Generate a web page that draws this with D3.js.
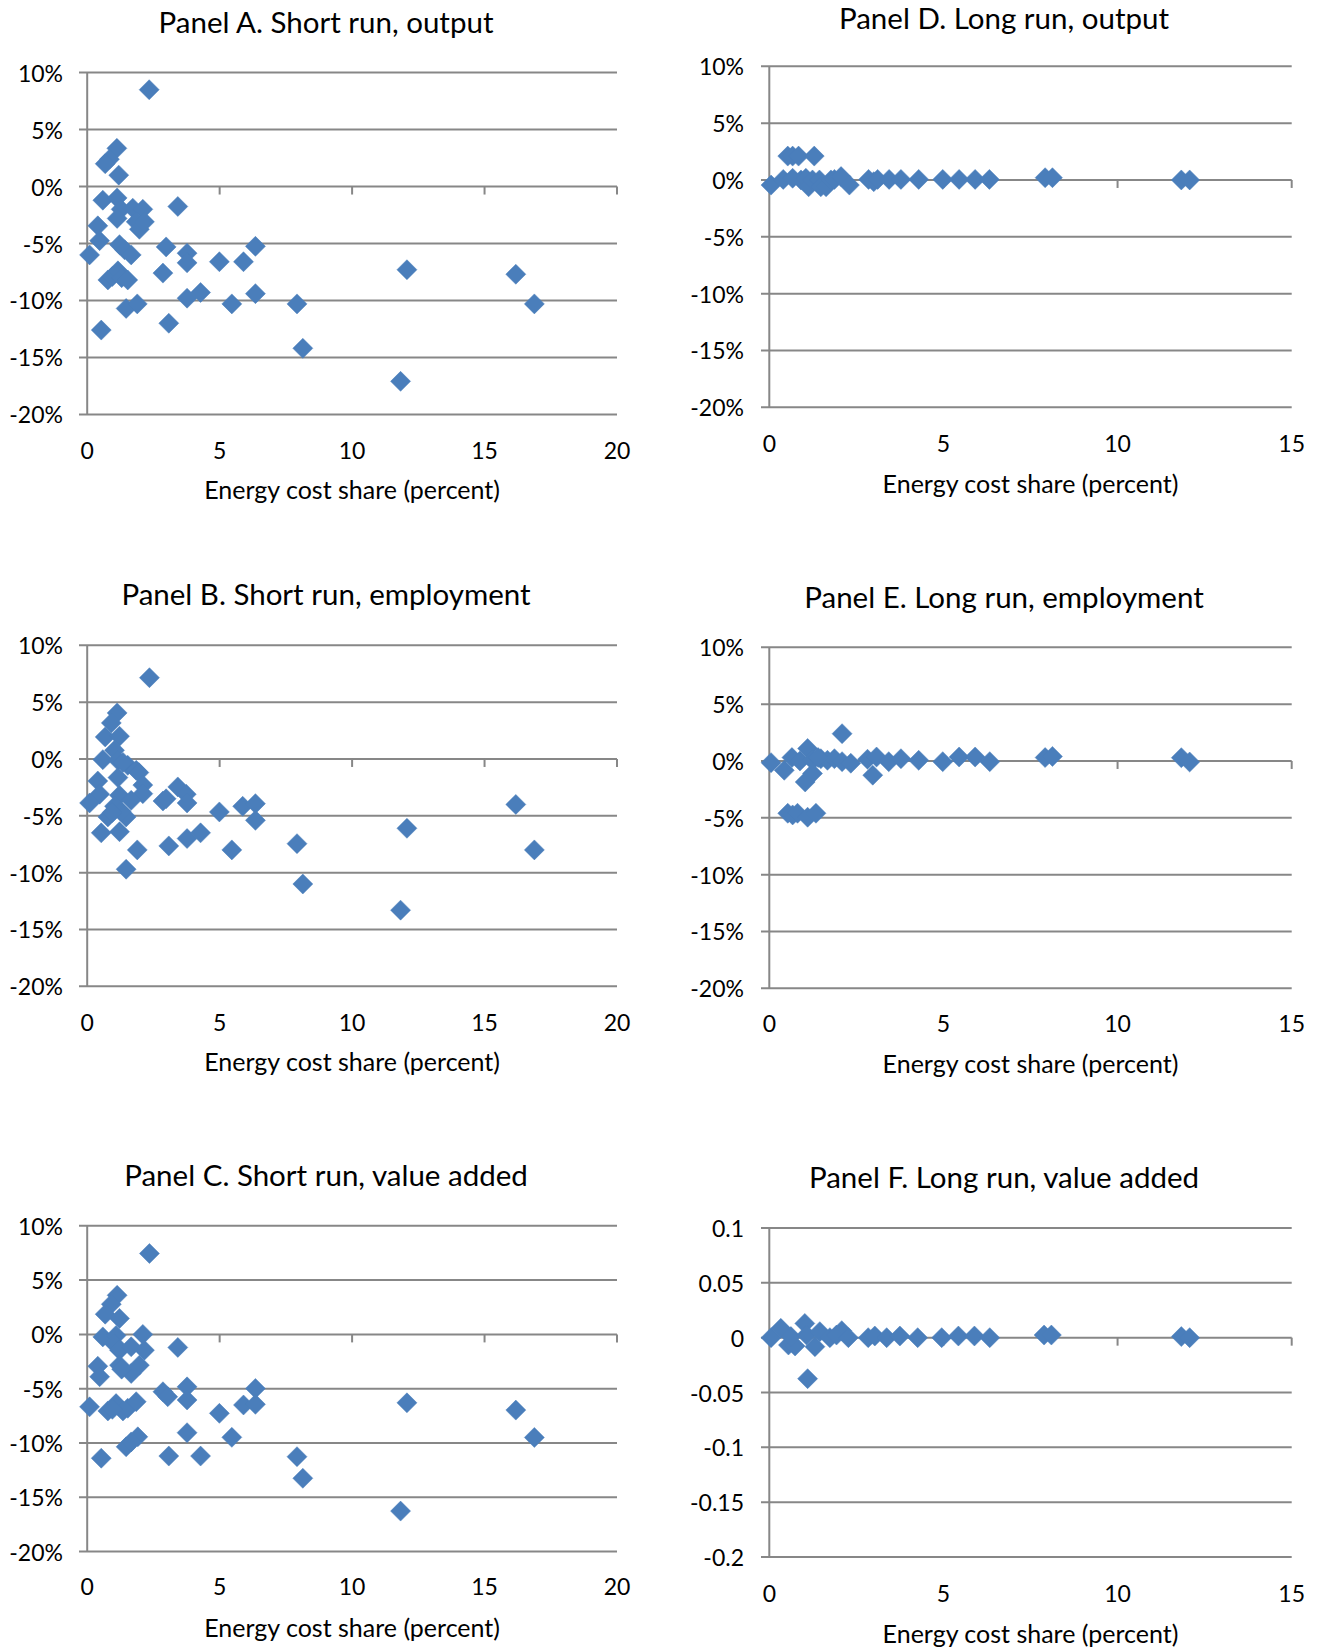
<!DOCTYPE html>
<html>
<head>
<meta charset="utf-8">
<script src="https://cdn.jsdelivr.net/npm/d3@7"></script>
<style>
  html, body { margin: 0; padding: 0; background: #fff; }
  svg text { font-family: Lato, "Noto Sans", sans-serif; fill: #000; }
</style>
</head>
<body>
<svg id="chart" width="1318" height="1648"></svg>
<script>
// ---------- DATA ----------
const panelTitles = [
  "Panel A. Short run, output",
  "Panel B. Short run, employment",
  "Panel C. Short run, value added",
  "Panel D. Long run, output",
  "Panel E. Long run, employment",
  "Panel F. Long run, value added"
];
const xAxisTitle = "Energy cost share (percent)";
const shortRunXTicks = [0, 5, 10, 15, 20];
const longRunXTicks = [0, 5, 10, 15];
const pctYTicks = [-20, -15, -10, -5, 0, 5, 10];
const fracYTicks = [-0.2, -0.15, -0.1, -0.05, 0, 0.05, 0.1];

// Panel A: short run, output (percent)
const shareA = [2.34,1.12,0.84,0.68,1.19,0.59,1.13,1.28,1.13,1.72,2.10,1.85,1.97,2.16,3.42,0.40,0.47,0.09,1.22,1.41,1.66,2.98,3.77,3.77,4.99,5.90,6.35,0.78,0.95,1.16,1.30,1.53,2.86,1.47,1.89,3.77,4.28,5.46,6.35,7.92,3.08,0.53,8.14,12.07,11.83,16.18,16.88];
const outA   = [8.5,3.35,2.4,2.0,1.0,-1.2,-1.0,-2.0,-2.8,-1.9,-2.0,-3.1,-3.75,-3.1,-1.75,-3.45,-4.75,-6.0,-5.1,-5.55,-6.0,-5.3,-5.85,-6.7,-6.6,-6.6,-5.25,-8.2,-7.9,-7.4,-8.0,-8.2,-7.6,-10.7,-10.3,-9.8,-9.3,-10.3,-9.4,-10.3,-12.0,-12.6,-14.2,-7.3,-17.1,-7.7,-10.3];

// Panel B: short run, employment (percent)
const shareB = [2.35,1.13,0.91,0.68,1.22,1.03,0.59,1.16,1.53,1.85,1.95,1.16,2.10,2.10,0.40,0.47,0.09,1.22,1.66,1.03,0.78,1.47,1.22,0.53,1.47,1.89,2.86,2.98,3.42,3.74,3.77,3.77,4.28,3.08,4.99,5.46,5.87,6.35,6.35,7.92,8.14,12.07,11.83,16.18,16.88,1.28,0.95,1.35];
const empB   = [7.15,4.05,3.17,1.94,2.0,0.76,-0.06,-0.12,-0.56,-1.0,-1.2,-1.64,-2.3,-3.05,-1.94,-3.1,-3.87,-3.2,-3.64,-4.16,-5.1,-5.1,-6.4,-6.5,-9.7,-8.0,-3.7,-3.5,-2.46,-3.1,-3.87,-7.0,-6.5,-7.65,-4.66,-8.0,-4.16,-3.93,-5.4,-7.45,-11.0,-6.1,-13.3,-4.0,-8.0,-4.6,-4.7,-0.3];

// Panel C: short run, value added (percent)
const shareC = [2.35,1.13,0.91,0.68,1.22,0.59,1.09,1.02,1.22,1.66,2.10,2.16,1.97,1.22,1.66,3.42,0.40,0.47,0.09,0.78,1.09,1.35,1.53,1.85,2.86,3.04,3.77,3.77,4.99,5.90,6.35,6.35,1.47,1.91,1.66,3.77,4.28,3.08,5.46,7.92,8.14,0.53,12.07,11.83,16.18,16.88,1.30,0.95];
const vaC    = [7.45,3.6,2.78,1.86,1.47,-0.23,-0.1,-0.85,-1.45,-1.14,0.0,-1.45,-2.83,-2.83,-3.6,-1.2,-2.93,-3.9,-6.67,-7.05,-6.37,-7.05,-6.8,-6.2,-5.28,-5.74,-4.83,-6.04,-7.27,-6.5,-4.98,-6.44,-10.35,-9.43,-9.9,-9.05,-11.2,-11.2,-9.48,-11.26,-13.25,-11.4,-6.3,-16.27,-6.97,-9.49,-3.2,-6.9];

// Panel D: long run, output (percent)
const shareD = [0.05,0.40,0.53,0.67,0.84,1.29,0.67,0.91,1.05,1.13,1.24,1.44,1.48,1.63,1.77,1.87,2.06,2.30,2.85,3.00,3.11,3.44,3.78,4.29,4.98,5.45,5.91,6.32,7.92,8.13,11.83,12.07];
const outD   = [-0.45,0.05,2.1,2.1,2.1,2.1,0.15,0.0,0.15,-0.6,0.0,0.0,-0.6,-0.6,0.0,0.05,0.3,-0.45,0.05,-0.15,0.05,0.05,0.05,0.05,0.05,0.05,0.05,0.05,0.2,0.2,0.0,0.0];

// Panel E: long run, employment (percent)
const shareE = [0.05,0.43,0.65,0.88,1.10,1.24,1.03,1.24,1.48,1.67,1.87,2.09,2.09,2.34,2.82,2.97,3.08,3.43,3.78,4.29,4.98,5.45,5.91,6.33,7.92,8.13,11.83,12.07,0.53,0.67,0.81,1.10,1.34,1.40];
const empE   = [-0.15,-0.82,0.3,0.0,1.1,0.06,-1.85,-1.1,0.2,0.06,0.2,2.4,-0.06,-0.2,0.15,-1.25,0.35,-0.06,0.2,0.06,-0.06,0.35,0.35,-0.06,0.3,0.4,0.29,-0.09,-4.6,-4.75,-4.6,-4.95,-4.6,0.3];

// Panel F: long run, value added (fraction)
const shareF = [0.05,0.33,0.55,0.74,0.62,1.02,1.10,1.31,1.07,1.45,1.74,1.93,2.08,2.27,2.84,3.03,3.37,3.75,4.26,4.95,5.43,5.89,6.33,7.89,8.10,11.83,12.07];
const vaF    = [0.0,0.0085,-0.0067,-0.0076,0.001,0.013,-0.0374,-0.0082,0.0024,0.0055,0.0,0.0024,0.0064,0.0,0.0,0.0015,0.0,0.0015,0.0,0.0,0.0015,0.0015,0.0,0.0024,0.0024,0.001,0.0];

// ---------- LAYOUT ----------
const pctFmt = d => d + "%";
const fracFmt = d => String(+d.toFixed(2));

const panels = [
  { title: panelTitles[0], xs: shareA, ys: outA, xMax: 20, xTicks: shortRunXTicks, yMin: -20, yMax: 10, yTicks: pctYTicks, fmt: pctFmt,
    left: 87.2, right: 617, top: 72.6, bottom: 414.4, titleX: 326, titleY: 21.7, tickY: 450, axisTitleY: 489, labelRight: 63, gridLeft: 79 },
  { title: panelTitles[1], xs: shareB, ys: empB, xMax: 20, xTicks: shortRunXTicks, yMin: -20, yMax: 10, yTicks: pctYTicks, fmt: pctFmt,
    left: 87.2, right: 617, top: 645.3, bottom: 986.3, titleX: 326, titleY: 593.3, tickY: 1021.7, axisTitleY: 1061, labelRight: 63, gridLeft: 79 },
  { title: panelTitles[2], xs: shareC, ys: vaC, xMax: 20, xTicks: shortRunXTicks, yMin: -20, yMax: 10, yTicks: pctYTicks, fmt: pctFmt,
    left: 87.2, right: 617, top: 1225.8, bottom: 1551.6, titleX: 326, titleY: 1174, tickY: 1586, axisTitleY: 1626.7, labelRight: 63, gridLeft: 79 },
  { title: panelTitles[3], xs: shareD, ys: outD, xMax: 15, xTicks: longRunXTicks, yMin: -20, yMax: 10, yTicks: pctYTicks, fmt: pctFmt,
    left: 769.3, right: 1291.7, top: 66.3, bottom: 407.3, titleX: 1004, titleY: 17, tickY: 442.7, axisTitleY: 482.7, labelRight: 744, gridLeft: 761 },
  { title: panelTitles[4], xs: shareE, ys: empE, xMax: 15, xTicks: longRunXTicks, yMin: -20, yMax: 10, yTicks: pctYTicks, fmt: pctFmt,
    left: 769.3, right: 1291.7, top: 647.3, bottom: 988.3, titleX: 1004, titleY: 596, tickY: 1023.3, axisTitleY: 1062.7, labelRight: 744, gridLeft: 761 },
  { title: panelTitles[5], xs: shareF, ys: vaF, xMax: 15, xTicks: longRunXTicks, yMin: -0.2, yMax: 0.1, yTicks: fracYTicks, fmt: fracFmt,
    left: 769.3, right: 1291.7, top: 1228, bottom: 1557, titleX: 1004, titleY: 1176.7, tickY: 1592.7, axisTitleY: 1632.7, labelRight: 744, gridLeft: 761 }
];

const gridColor = "#878787";
const markerColor = "#4a7ebb";
const diamond = r => `M0,${-r}L${r},0L0,${r}L${-r},0Z`;

const svg = d3.select("#chart");
svg.append("rect").attr("width", 1318).attr("height", 1648).attr("fill", "#fff");

panels.forEach(p => {
  const g = svg.append("g");
  const x = d3.scaleLinear().domain([0, p.xMax]).range([p.left, p.right]);
  const y = d3.scaleLinear().domain([p.yMin, p.yMax]).range([p.bottom, p.top]);

  // horizontal gridlines (with left tick marks)
  g.selectAll("line.grid").data(p.yTicks).join("line")
    .attr("x1", p.gridLeft).attr("x2", p.right)
    .attr("y1", d => y(d)).attr("y2", d => y(d))
    .attr("stroke", gridColor).attr("stroke-width", 2);

  // vertical axis line
  g.append("line")
    .attr("x1", x(0)).attr("x2", x(0))
    .attr("y1", y(p.yMax)).attr("y2", y(p.yMin))
    .attr("stroke", gridColor).attr("stroke-width", 2);

  // horizontal axis at zero with downward ticks
  g.selectAll("line.xtick").data(p.xTicks.filter(v => v > 0)).join("line")
    .attr("x1", d => x(d)).attr("x2", d => x(d))
    .attr("y1", y(0)).attr("y2", y(0) + 8)
    .attr("stroke", gridColor).attr("stroke-width", 2);

  // y tick labels
  g.selectAll("text.ylab").data(p.yTicks).join("text")
    .attr("x", p.labelRight).attr("y", d => y(d))
    .attr("text-anchor", "end").attr("dominant-baseline", "central")
    .style("font-size", "23px")
    .text(p.fmt);

  // x tick labels (at bottom)
  g.selectAll("text.xlab").data(p.xTicks).join("text")
    .attr("x", d => x(d)).attr("y", p.tickY)
    .attr("text-anchor", "middle").attr("dominant-baseline", "central")
    .style("font-size", "23px")
    .text(d => d);

  // x axis title
  g.append("text")
    .attr("x", (p.left + p.right) / 2).attr("y", p.axisTitleY)
    .attr("text-anchor", "middle").attr("dominant-baseline", "central")
    .style("font-size", "25px")
    .text(xAxisTitle);

  // panel title
  g.append("text")
    .attr("x", p.titleX).attr("y", p.titleY)
    .attr("text-anchor", "middle").attr("dominant-baseline", "central")
    .style("font-size", "29.5px")
    .text(p.title);

  // points
  const pts = p.xs.map((v, i) => ({ x: v, y: p.ys[i] })).filter(d => d.x <= p.xMax);
  g.selectAll("path.pt").data(pts).join("path")
    .attr("transform", d => `translate(${x(d.x)},${y(d.y)})`)
    .attr("d", diamond(10))
    .attr("fill", markerColor)
    .attr("stroke", markerColor).attr("stroke-width", 0.5);
});
</script>
</body>
</html>
